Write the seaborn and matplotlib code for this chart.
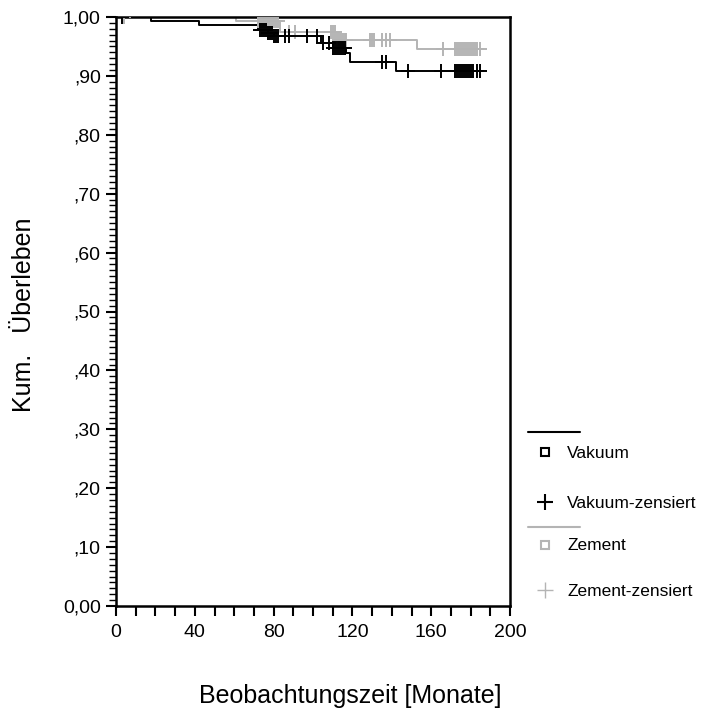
import numpy as np
import pandas as pd
import matplotlib
matplotlib.use("Agg")
import matplotlib.pyplot as plt
import seaborn as sns
from matplotlib.lines import Line2D

# Kaplan-Meier steps
vak_times = [0, 18, 42, 72, 77, 80, 104, 110, 117, 119, 142, 186]
vak_surv = [1.0, 0.993, 0.986, 0.978, 0.972, 0.968, 0.956, 0.947, 0.939, 0.924, 0.909, 0.909]
vak_censored = [3, 73, 74, 75, 76, 77, 78, 79, 80, 81, 82, 86, 88, 97, 102, 105, 108,
                110, 111, 112, 113, 114, 115, 116, 135, 137, 148, 165,
                172, 173, 174, 175, 176, 177, 178, 179, 180, 181, 183, 185]

zem_times = [0, 61, 83, 112, 153, 186]
zem_surv = [1.0, 0.994, 0.975, 0.961, 0.945, 0.945]
zem_censored = [4, 72, 73, 74, 75, 76, 77, 78, 79, 80, 81, 82, 88, 91, 109, 110, 111,
                113, 114, 115, 116, 117, 129, 130, 131, 135, 137, 139, 166,
                172, 173, 174, 175, 176, 177, 178, 179, 180, 181, 182, 183, 185]

y_ticks = [0.0, 0.1, 0.2, 0.3, 0.4, 0.5, 0.6, 0.7, 0.8, 0.9, 1.0]
y_labels = ["0,00", ",10", ",20", ",30", ",40", ",50", ",60", ",70", ",80", ",90", "1,00"]
x_ticks = [0, 40, 80, 120, 160, 200]

sns.set_style("ticks")
plt.rcParams["font.family"] = ["Liberation Sans", "DejaVu Sans"]
plt.rcParams["text.color"] = "black"
plt.rcParams["xtick.color"] = "black"
plt.rcParams["ytick.color"] = "black"


def surv_at(times, surv, t):
    idx = np.searchsorted(times, t, side="right") - 1
    return np.array(surv)[idx]


W, H = 701, 711


def fx(px):
    return px / W


def fy(py):
    return 1 - py / H


fig = plt.figure(figsize=(7.01, 7.11), dpi=100)
ax = fig.add_axes([fx(116), fy(606), (510 - 116) / W, (606 - 17) / H])

groups = [
    ("Vakuum", vak_times, vak_surv, vak_censored, "black"),
    ("Zement", zem_times, zem_surv, zem_censored, "#b4b4b4"),
]

for name, times, surv, cens, col in groups[::-1]:
    steps = pd.DataFrame({"t": times, "s": surv})
    sns.lineplot(data=steps, x="t", y="s", drawstyle="steps-post",
                 color=col, lw=1.4, ax=ax)
    cdf = pd.DataFrame({"t": cens, "s": surv_at(times, surv, cens)})
    sns.scatterplot(data=cdf, x="t", y="s", marker="+", s=110,
                    color=col, linewidth=1.4, ax=ax, zorder=3)

ax.set_xlim(0, 200)
ax.set_ylim(0, 1.0)
ax.set_xticks(x_ticks)
ax.set_xticks(np.arange(0, 201, 10), minor=True)
ax.set_yticks(y_ticks)
ax.set_yticklabels(y_labels)
ax.set_yticks(np.arange(0, 1.001, 0.01), minor=True)
ax.tick_params(axis="both", which="major", labelsize=14, width=1.5, length=7,
               color="black", labelcolor="black")
ax.tick_params(axis="x", which="major", pad=6)
ax.tick_params(axis="y", which="major", pad=4)
ax.tick_params(axis="y", which="minor", width=1.0, length=5, color="black")
ax.tick_params(axis="x", which="minor", width=1.5, length=7, color="black")
for sp in ax.spines.values():
    sp.set_visible(True)
    sp.set_linewidth(1.8)
    sp.set_color("black")
ax.set_xlabel("")
ax.set_ylabel("")

fig.text(0.5, fy(703), "Beobachtungszeit [Monate]", fontsize=18, ha="center", va="baseline")
fig.text(fx(24), fy(315), "Kum.   Überleben", fontsize=18, rotation=90,
         ha="center", va="center")

# legend drawn by hand, SPSS style
fig.add_artist(Line2D([fx(528), fx(580)], [fy(432), fy(432)], color="black", lw=1.5))
fig.add_artist(Line2D([fx(545)], [fy(452)], marker="s", ms=5.5, mfc="white", mec="black", mew=1.5))
fig.text(fx(567), fy(453), "Vakuum", fontsize=12.5, va="center")
fig.add_artist(Line2D([fx(545)], [fy(502)], marker="+", ms=11, color="black", mew=1.5))
fig.text(fx(567), fy(503), "Vakuum-zensiert", fontsize=12.5, va="center")
fig.add_artist(Line2D([fx(528), fx(580)], [fy(527), fy(527)], color="#b4b4b4", lw=1.5))
fig.add_artist(Line2D([fx(545)], [fy(545)], marker="s", ms=5.5, mfc="white", mec="#b4b4b4", mew=1.5))
fig.text(fx(567), fy(546), "Zement", fontsize=12.5, va="center")
fig.add_artist(Line2D([fx(545)], [fy(590)], marker="+", ms=11, color="#b4b4b4", mew=1.0))
fig.text(fx(567), fy(592), "Zement-zensiert", fontsize=12.5, va="center")

fig.savefig("out.png", dpi=100)
